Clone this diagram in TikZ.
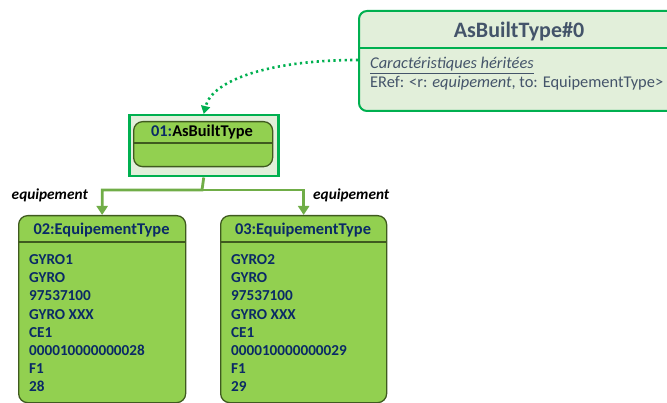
\documentclass[tikz,border=0pt]{standalone}
\usepackage{fontspec}
\setmainfont{Carlito}
\usetikzlibrary{arrows.meta, positioning, calc}
\definecolor{frameGreen}{HTML}{00B050}
\definecolor{paleGreen}{HTML}{E2EFDA}
\definecolor{objGreen}{HTML}{92D050}
\definecolor{objEdge}{HTML}{3F5A1F}
\definecolor{linkGreen}{HTML}{70AD47}
\definecolor{navy}{HTML}{0A2A66}
\definecolor{slate}{HTML}{44546A}

\begin{document}
\begin{tikzpicture}[x=1pt, y=-1pt,
    objbox/.style={draw=objEdge, fill=objGreen, line width=1.3pt, rounded corners=9pt, inner sep=0pt},
    objtitle/.style={anchor=base, font=\fontsize{16.4}{19}\selectfont\bfseries, text=navy},
    slots/.style={anchor=north west, inner sep=0pt, align=left, text=navy,
        font=\fontsize{15.2}{18.2}\selectfont\bfseries},
    rolelbl/.style={inner sep=0pt, font=\fontsize{15.3}{17}\selectfont\bfseries\itshape},
    link/.style={draw=linkGreen, line width=2.8pt, -{Triangle[length=9pt, width=11pt]}}]
    % page frame (px units, y downwards)
    \useasboundingbox (0,0) rectangle (667,403);
    \clip (0,0) rectangle (667,403);

    % Class AsBuiltType#0 (cut by the right border)
    \node[draw=frameGreen, fill=paleGreen, line width=2pt, rounded corners=8pt,
        minimum width=322, minimum height=100, anchor=north west] (cls) at (358,10) {};
    \draw[frameGreen, line width=1.5pt] (cls.west |- 0,48) -- (cls.east |- 0,48);
    \node[anchor=base, inner sep=0pt, text=slate, font=\fontsize{22}{26}\selectfont\bfseries] (clstitle) at (519,38) {AsBuiltType\#0};
    \node[anchor=base west, inner sep=0pt, text=slate, font=\fontsize{16.4}{19}\selectfont] (inher) at (370,69)
        {\underline{\itshape Caractéristiques héritées}};
    \node[anchor=base west, inner sep=0pt, text=slate, font=\fontsize{16.4}{19}\selectfont] (eref) at (370,88)
        {ERef: <r: \textit{equipement}, to: EquipementType>};

    % Instance 01 with its selection frame
    \node[draw=frameGreen, fill=paleGreen, line width=2.5pt, minimum width=149, minimum height=61,
        anchor=north west] (abtframe) at (128,114) {};
    \node[objbox, minimum width=139, minimum height=45, anchor=north west] (abt) at (133,121) {};
    \draw[objEdge, line width=1.3pt] (abt.west |- 0,143) -- (abt.east |- 0,143);
    \node[objtitle, text=black] (abttitle) at (202,137) {\textcolor{navy}{01:}AsBuiltType};

    % Dotted link from the class to the instance
    \coordinate (clsport) at (358,60);
    \draw[frameGreen, line width=2.6pt, dash pattern=on 2.2pt off 3.4pt,
        -{Triangle[length=8pt, width=9pt]}]
        (clsport) .. controls (270,60) and (212,80) .. (abtframe.north);

    % Instances 02 and 03
    \node[objbox, minimum width=167, minimum height=187, anchor=north west] (eq02) at (18,215) {};
    \draw[objEdge, line width=1.3pt] (eq02.west |- 0,242) -- (eq02.east |- 0,242);
    \node[objtitle] (eq02title) at (101.5,235) {02:EquipementType};
    \node[slots] (eq02slots) at (29,254.3)
        {GYRO1\\GYRO\\97537100\\GYRO XXX\\CE1\\000010000000028\\F1\\28};

    \node[objbox, minimum width=166, minimum height=187, anchor=north west] (eq03) at (220,215) {};
    \draw[objEdge, line width=1.3pt] (eq03.west |- 0,242) -- (eq03.east |- 0,242);
    \node[objtitle] (eq03title) at (303,235) {03:EquipementType};
    \node[slots] (eq03slots) at (231,254.3)
        {GYRO2\\GYRO\\97537100\\GYRO XXX\\CE1\\000010000000029\\F1\\29};

    % Role links "equipement"
    \coordinate (bus) at (202,190);
    \draw[link] (abtframe.south) -- (bus) -| (eq02.north);
    \draw[link] (bus) -| (eq03.north);
    \node[rolelbl, anchor=base east] (role02) at (88,200) {equipement};
    \node[rolelbl, anchor=base west] (role03) at (313,200) {equipement};
\end{tikzpicture}
\end{document}
